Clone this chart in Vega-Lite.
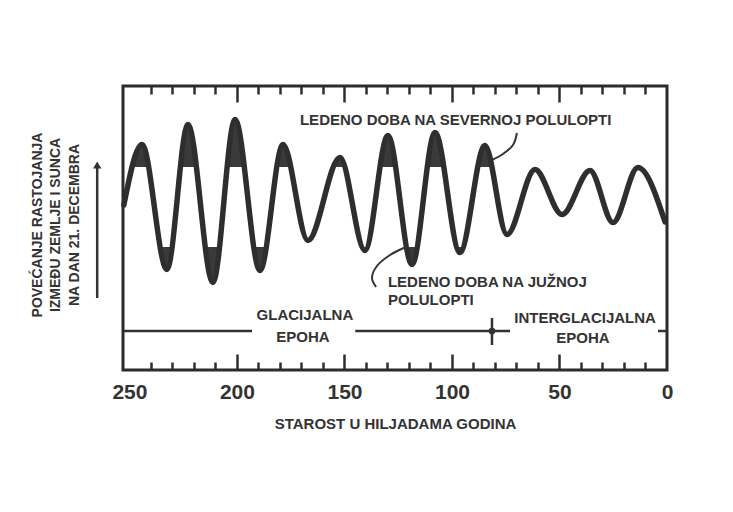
{
  "$schema": "https://vega.github.io/schema/vega-lite/v6.json",
  "width": 544,
  "height": 284,
  "autosize": "none",
  "padding": {"left": 123, "top": 86, "right": 66, "bottom": 142},
  "background": "white",
  "config": {
    "view": {"stroke": null},
    "font": "Liberation Sans",
    "axis": {"labelFont": "Liberation Sans", "titleFont": "Liberation Sans", "grid": false}
  },
  "datasets": {
    "curve": [
      {"age": 252.6, "d": 165},
      {"age": 244.2, "d": 225.5},
      {"age": 232.6, "d": 100.5},
      {"age": 222.8, "d": 245.5},
      {"age": 211.2, "d": 87.5},
      {"age": 200.9, "d": 250.5},
      {"age": 189.3, "d": 99.5},
      {"age": 178.6, "d": 225.5},
      {"age": 167.0, "d": 129.5},
      {"age": 152.1, "d": 212.5},
      {"age": 140.5, "d": 119.5},
      {"age": 129.8, "d": 234.5},
      {"age": 118.6, "d": 105.5},
      {"age": 107.9, "d": 237.5},
      {"age": 96.3, "d": 117.5},
      {"age": 84.7, "d": 224.5},
      {"age": 74.4, "d": 135.5},
      {"age": 61.4, "d": 200.5},
      {"age": 48.8, "d": 155.5},
      {"age": 35.8, "d": 199.5},
      {"age": 25.1, "d": 147.5},
      {"age": 13.5, "d": 202.5},
      {"age": 0.9, "d": 148}
    ],
    "epoch": [
      {"from": 253, "to": 193},
      {"from": 145, "to": 73},
      {"from": 4.2, "to": 0}
    ],
    "notesCenter": [
      {"label": "GLACIJALNA", "x": 168.4, "y": 55},
      {"label": "EPOHA", "x": 169.3, "y": 33},
      {"label": "INTERGLACIJALNA", "x": 38.1, "y": 52},
      {"label": "EPOHA", "x": 39.1, "y": 32}
    ],
    "notesLeft": [
      {"label": "LEDENO DOBA NA SEVERNOJ POLULOPTI", "x": 170.7, "y": 250},
      {"label": "LEDENO DOBA NA JUŽNOJ", "x": 129.8, "y": 88},
      {"label": "POLULOPTI", "x": 129.8, "y": 70}
    ],
    "leaders": [
      {"g": "n", "i": 1, "x": 69.8, "y": 237},
      {"g": "n", "i": 2, "x": 71.6, "y": 225},
      {"g": "n", "i": 3, "x": 76.3, "y": 216},
      {"g": "n", "i": 4, "x": 81.4, "y": 210},
      {"g": "s", "i": 1, "x": 121.4, "y": 123},
      {"g": "s", "i": 2, "x": 128.8, "y": 115},
      {"g": "s", "i": 3, "x": 134.9, "y": 104},
      {"g": "s", "i": 4, "x": 137.2, "y": 92},
      {"g": "s", "i": 5, "x": 135.3, "y": 83}
    ]
  },
  "resolve": {"axis": {"x": "independent"}},
  "layer": [
    {
      "data": {"name": "curve"},
      "mark": {"type": "area", "interpolate": "monotone", "color": "#3a3a3a"},
      "encoding": {
        "x": {"field": "age", "type": "quantitative",
          "scale": {"domain": [0, 253], "reverse": true, "nice": false, "zero": false},
          "axis": {"orient": "bottom", "values": [10,20,30,40,60,70,80,90,110,120,130,140,160,170,180,190,210,220,230,240],
            "tickSize": -8, "tickWidth": 2.5, "tickColor": "#2e2e2e", "labels": false, "domain": false, "title": null}},
        "y": {"field": "d", "type": "quantitative", "scale": {"domain": [0, 284], "nice": false, "zero": false}, "axis": null},
        "y2": {"datum": 123}
      }
    },
    {
      "data": {"values": [{}]},
      "mark": {"type": "rect", "color": "white"},
      "encoding": {
        "x": {"datum": 253, "type": "quantitative", "scale": {"domain": [0, 253], "reverse": true, "nice": false, "zero": false}, "axis": null},
        "x2": {"datum": 0},
        "y": {"datum": 123, "type": "quantitative", "scale": {"domain": [0, 284], "nice": false, "zero": false}, "axis": null},
        "y2": {"datum": 203}
      }
    },
    {
      "data": {"name": "curve"},
      "mark": {"type": "line", "interpolate": "monotone", "color": "#2e2e2e", "strokeWidth": 5.5, "strokeCap": "round"},
      "encoding": {
        "x": {"field": "age", "type": "quantitative",
          "scale": {"domain": [0, 253], "reverse": true, "nice": false, "zero": false},
          "axis": {"orient": "bottom", "values": [0, 50, 100, 150, 200, 250],
            "tickSize": -16, "tickWidth": 2.5, "tickColor": "#2e2e2e",
            "tickOpacity": {"condition": {"test": "datum.value === 250 || datum.value === 0", "value": 0}, "value": 1},
            "labelFontSize": 21, "labelFontWeight": "bold", "labelColor": "#333333", "labelPadding": 27, "labelFlush": false,
            "domain": false,
            "title": "STAROST U HILJADAMA GODINA", "titleFontSize": 15, "titleFontWeight": "bold", "titleColor": "#333333", "titlePadding": 14}},
        "y": {"field": "d", "type": "quantitative", "scale": {"domain": [0, 284], "nice": false, "zero": false}, "axis": null}
      }
    },
    {
      "data": {"name": "epoch"},
      "mark": {"type": "rule", "strokeWidth": 2.5, "color": "#333333"},
      "encoding": {
        "x": {"field": "from", "type": "quantitative",
          "scale": {"domain": [0, 253], "reverse": true, "nice": false, "zero": false},
          "axis": {"orient": "top", "values": [10,20,30,40,60,70,80,90,110,120,130,140,160,170,180,190,210,220,230,240],
            "tickSize": -8, "tickWidth": 2.5, "tickColor": "#2e2e2e", "labels": false, "domain": false, "title": null}},
        "x2": {"field": "to"},
        "y": {"datum": 39, "type": "quantitative", "scale": {"domain": [0, 284], "nice": false, "zero": false}, "axis": null}
      }
    },
    {
      "data": {"name": "notesCenter"},
      "mark": {"type": "text", "align": "center", "baseline": "middle", "font": "Liberation Sans", "fontWeight": "bold", "fontSize": 15, "color": "#333333"},
      "encoding": {
        "x": {"field": "x", "type": "quantitative",
          "scale": {"domain": [0, 253], "reverse": true, "nice": false, "zero": false},
          "axis": {"orient": "top", "values": [50, 100, 150, 200],
            "tickSize": -16, "tickWidth": 2.5, "tickColor": "#2e2e2e", "labels": false, "domain": false, "title": null}},
        "y": {"field": "y", "type": "quantitative", "scale": {"domain": [0, 284], "nice": false, "zero": false}, "axis": null},
        "text": {"field": "label"}
      }
    },
    {
      "data": {"name": "notesLeft"},
      "mark": {"type": "text", "align": "left", "baseline": "middle", "font": "Liberation Sans", "fontWeight": "bold", "fontSize": 15, "color": "#333333"},
      "encoding": {
        "x": {"field": "x", "type": "quantitative", "scale": {"domain": [0, 253], "reverse": true, "nice": false, "zero": false}, "axis": null},
        "y": {"field": "y", "type": "quantitative", "scale": {"domain": [0, 284], "nice": false, "zero": false}, "axis": null},
        "text": {"field": "label"}
      }
    },
    {
      "data": {"values": [{}]},
      "mark": {"type": "text", "text": ["POVEĆANJE RASTOJANJA", "IZMEĐU ZEMLJE I SUNCA", "NA DAN 21. DECEMBRA"],
        "angle": 270, "align": "center", "baseline": "middle", "lineHeight": 18.5,
        "font": "Liberation Sans", "fontWeight": "bold", "fontSize": 14, "color": "#333333"},
      "encoding": {
        "x": {"datum": 292.6, "type": "quantitative", "scale": {"domain": [0, 253], "reverse": true, "nice": false, "zero": false}, "axis": null},
        "y": {"datum": 145, "type": "quantitative", "scale": {"domain": [0, 284], "nice": false, "zero": false}, "axis": null}
      }
    },
    {
      "data": {"name": "leaders"},
      "mark": {"type": "line", "interpolate": "catmull-rom", "color": "#333333", "strokeWidth": 2},
      "encoding": {
        "x": {"field": "x", "type": "quantitative", "scale": {"domain": [0, 253], "reverse": true, "nice": false, "zero": false}, "axis": null},
        "y": {"field": "y", "type": "quantitative", "scale": {"domain": [0, 284], "nice": false, "zero": false}, "axis": null},
        "detail": {"field": "g"},
        "order": {"field": "i", "type": "quantitative"}
      }
    },
    {
      "data": {"values": [{}]},
      "mark": {"type": "rule", "strokeWidth": 2.5, "color": "#333333"},
      "encoding": {
        "x": {"datum": 265, "type": "quantitative", "scale": {"domain": [0, 253], "reverse": true, "nice": false, "zero": false}, "axis": null},
        "y": {"datum": 72, "type": "quantitative", "scale": {"domain": [0, 284], "nice": false, "zero": false}, "axis": null},
        "y2": {"datum": 203}
      }
    },
    {
      "data": {"values": [{}]},
      "mark": {"type": "point", "shape": "triangle-up", "filled": true, "size": 70, "color": "#333333", "opacity": 1},
      "encoding": {
        "x": {"datum": 265, "type": "quantitative", "scale": {"domain": [0, 253], "reverse": true, "nice": false, "zero": false}, "axis": null},
        "y": {"datum": 205, "type": "quantitative", "scale": {"domain": [0, 284], "nice": false, "zero": false}, "axis": null}
      }
    },
    {
      "data": {"values": [{}]},
      "mark": {"type": "rule", "strokeWidth": 2.5, "color": "#333333"},
      "encoding": {
        "x": {"datum": 81.4, "type": "quantitative", "scale": {"domain": [0, 253], "reverse": true, "nice": false, "zero": false}, "axis": null},
        "y": {"datum": 25, "type": "quantitative", "scale": {"domain": [0, 284], "nice": false, "zero": false}, "axis": null},
        "y2": {"datum": 52}
      }
    },
    {
      "data": {"values": [{}]},
      "mark": {"type": "point", "shape": "circle", "filled": true, "size": 45, "color": "#333333", "opacity": 1},
      "encoding": {
        "x": {"datum": 81.4, "type": "quantitative", "scale": {"domain": [0, 253], "reverse": true, "nice": false, "zero": false}, "axis": null},
        "y": {"datum": 39, "type": "quantitative", "scale": {"domain": [0, 284], "nice": false, "zero": false}, "axis": null}
      }
    },
    {
      "data": {"values": [{}]},
      "mark": {"type": "rect", "filled": false, "color": "#2b2b2b", "strokeWidth": 3},
      "encoding": {
        "x": {"datum": 253, "type": "quantitative", "scale": {"domain": [0, 253], "reverse": true, "nice": false, "zero": false}, "axis": null},
        "x2": {"datum": 0},
        "y": {"datum": 0, "type": "quantitative", "scale": {"domain": [0, 284], "nice": false, "zero": false}, "axis": null},
        "y2": {"datum": 284}
      }
    }
  ]
}
